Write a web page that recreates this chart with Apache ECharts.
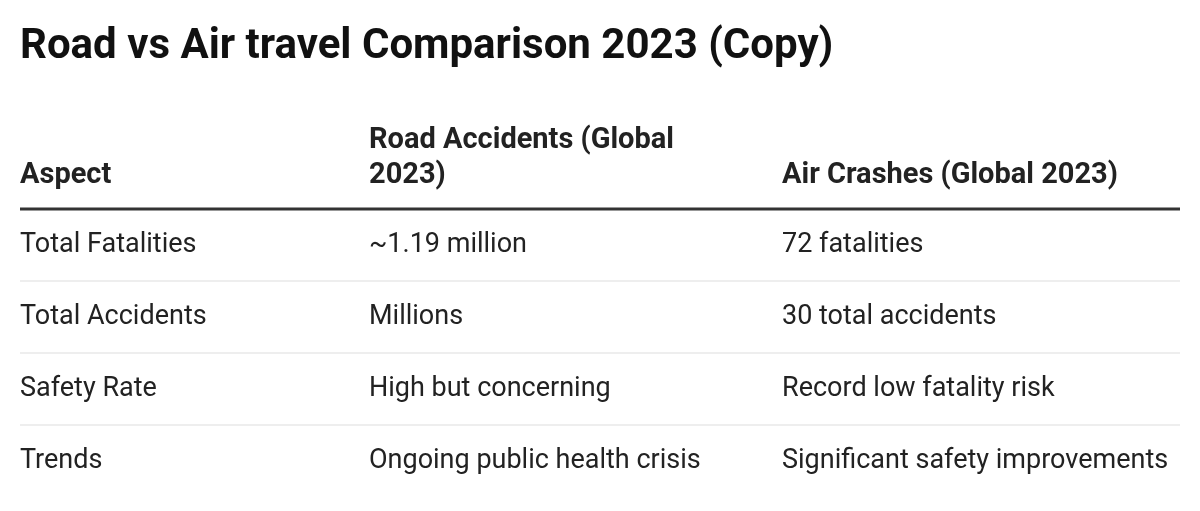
<!DOCTYPE html>
<html>
<head>
<meta charset="utf-8">
<script src="https://cdn.jsdelivr.net/npm/echarts@6/dist/echarts.min.js"></script>
<style>html,body{margin:0;padding:0;background:#fff}#chart{width:1200px;height:511px}</style>
</head>
<body>
<div id="chart"></div>
<script>
const title = 'Road vs Air travel Comparison 2023 (Copy)';
const headers = ['Aspect', 'Road Accidents (Global\n2023)', 'Air Crashes (Global 2023)'];
const aspects = ['Total Fatalities', 'Total Accidents', 'Safety Rate', 'Trends'];
const roadValues = ['~1.19 million', 'Millions', 'High but concerning', 'Ongoing public health crisis'];
const airValues = ['72 fatalities', '30 total accidents', 'Record low fatality risk', 'Significant safety improvements'];

const colX = [20, 369, 782];
const left = 20, right = 1180;
const headerBottom = 193;
const ruleY = 209;
const rowTop = 209, rowH = 72;
const font = 'Roboto, "Noto Sans", sans-serif';

const chart = echarts.init(document.getElementById('chart'));
const els = [];

els.push({ type: 'text', x: 20, y: 47, style: { text: title, font: 'bold 42px ' + font, fill: '#111', verticalAlign: 'middle' } });

headers.forEach((h, i) => {
    els.push({ type: 'text', x: colX[i], y: headerBottom, style: {
        text: h, font: 'bold 29px ' + font, fill: '#222', lineHeight: 35, verticalAlign: 'bottom'
    } });
});
els.push({ type: 'line', shape: { x1: left, y1: ruleY, x2: right, y2: ruleY }, style: { stroke: '#333', lineWidth: 3 } });

aspects.forEach((a, r) => {
    const cy = rowTop + rowH * r + rowH / 2;
    [a, roadValues[r], airValues[r]].forEach((t, i) => {
        els.push({ type: 'text', x: colX[i], y: cy, style: {
            text: t, font: '27px ' + font, fill: '#222', verticalAlign: 'middle'
        } });
    });
    if (r < aspects.length - 1) {
        const y = rowTop + rowH * (r + 1);
        els.push({ type: 'line', shape: { x1: left, y1: y, x2: right, y2: y }, style: { stroke: '#ddd', lineWidth: 1 } });
    }
});

chart.setOption({ animation: false, graphic: { elements: els } });
</script>
</body>
</html>
